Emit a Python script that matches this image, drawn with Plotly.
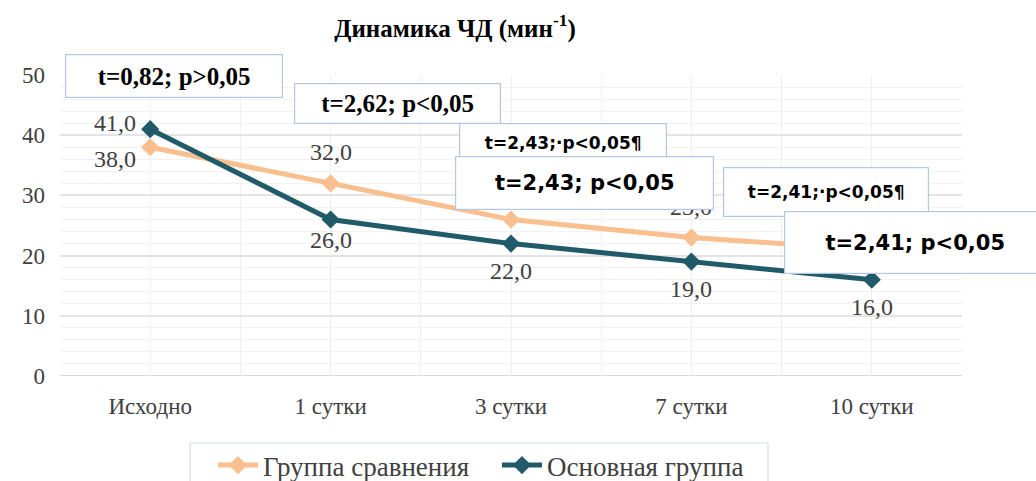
import plotly.graph_objects as go

categories = ["Исходно", "1 сутки", "3 сутки", "7 сутки", "10 сутки"]
comparison_group = [38.0, 32.0, 26.0, 23.0, 21.0]
main_group = [41.0, 26.0, 22.0, 19.0, 16.0]
series_names = ["Группа сравнения", "Основная группа"]
y_ticks = [0, 10, 20, 30, 40, 50]
stat_boxes_big = ["t=0,82; p>0,05", "t=2,62; p<0,05", "t=2,43; p<0,05", "t=2,41; p<0,05"]
stat_boxes_small = ["t=2,43;·p<0,05¶", "t=2,41;·p<0,05¶"]

ORANGE = "#F9BF8F"
TEAL = "#215A69"
SERIF = "Liberation Serif, Times New Roman, serif"
SANS = "DejaVu Sans, Verdana, sans-serif"
BORDER = "#B4C7E7"
TXT = "#404040"

W, H = 1036, 481
L, R, T, B = 60, 74, 75, 105
PW, PH = W - L - R, H - T - B

def px(x):
    return (x - L) / PW

def py(y):
    return (H - B - y) / PH

xs = list(range(len(categories)))

fig = go.Figure()
fig.add_trace(go.Scatter(
    x=xs, y=comparison_group, name=series_names[0], mode="lines+markers",
    line=dict(color=ORANGE, width=5), marker=dict(symbol="diamond", size=14, color=ORANGE)))
fig.add_trace(go.Scatter(
    x=xs, y=main_group, name=series_names[1], mode="lines+markers",
    line=dict(color=TEAL, width=5), marker=dict(symbol="diamond", size=14, color=TEAL)))

label_font = dict(family=SERIF, size=24, color=TXT)
annotations = []
for i, v in enumerate(comparison_group):
    xs_, ys_ = (-35, -12) if i == 0 else (0, 31)
    annotations.append(dict(x=xs[i], y=v, xref="x", yref="y", text=f"{v:.1f}".replace(".", ","),
                            showarrow=False, xshift=xs_, yshift=ys_, font=label_font))
for i, v in enumerate(main_group):
    if i == 0:
        xs_, ys_ = -35, 6
    elif i == 1:
        xs_, ys_ = 0, -21
    else:
        xs_, ys_ = 0, -27
    annotations.append(dict(x=xs[i], y=v, xref="x", yref="y", text=f"{v:.1f}".replace(".", ","),
                            showarrow=False, xshift=xs_, yshift=ys_, font=label_font))

def box(text, x0, y0, x1, y1, font):
    annotations.append(dict(
        x=px(x0), y=py(y0), xref="paper", yref="paper", xanchor="left", yanchor="top",
        text=text, showarrow=False, align="center", valign="middle",
        width=x1 - x0 - 4, height=y1 - y0 - 4, borderpad=1,
        bgcolor="white", bordercolor=BORDER, borderwidth=1.2, font=font))

big_serif = dict(family=SERIF, size=25, color="black", weight="bold")
small_sans = dict(family=SANS, size=17, color="black", weight="bold")
big_sans = dict(family=SANS, size=21, color="black", weight="bold")

box(stat_boxes_big[0], 65, 54, 283, 98, big_serif)
box(stat_boxes_big[1], 294, 83, 501, 124, big_serif)
box(stat_boxes_small[0], 459, 123, 667, 163, small_sans)
box(stat_boxes_big[2], 455, 156, 714, 210, big_sans)
box(stat_boxes_small[1], 723, 167, 929, 217, small_sans)
box(stat_boxes_big[3], 784, 211, 1046, 274, big_sans)

fig.update_layout(
    width=W, height=H, margin=dict(l=L, r=R, t=T, b=B, autoexpand=False),
    paper_bgcolor="white", plot_bgcolor="white",
    title=dict(text="Динамика ЧД (мин<sup>-1</sup>)", x=455 / W, xanchor="center", y=1 - 28 / H,
               yanchor="middle", font=dict(family=SERIF, size=25, color="black", weight="bold")),
    showlegend=True,
    legend=dict(orientation="h", x=px(213), y=py(441), xanchor="left", yanchor="top",
                borderwidth=0, bgcolor="rgba(0,0,0,0)",
                font=dict(family=SERIF, size=27, color=TXT),
                itemwidth=40, entrywidthmode="pixels", entrywidth=229),
    annotations=annotations,
    xaxis=dict(range=[-0.5, 4.5], tickmode="array", tickvals=xs, ticktext=categories,
               automargin=False,
               showgrid=True, gridcolor="#F0F0F0", gridwidth=1, zeroline=False,
               showline=False, ticks="", ticklabelstandoff=14,
               tickfont=dict(family=SERIF, size=23, color=TXT),
               minor=dict(tickmode="array", tickvals=[x - 0.5 for x in xs] + [4.5],
                          showgrid=True, gridcolor="#F0F0F0", gridwidth=1)),
    yaxis=dict(range=[0, 50], tickmode="array", tickvals=y_ticks, automargin=False,
               showgrid=True, gridcolor="#E4E4E4", gridwidth=2, zeroline=False,
               showline=False, ticks="", ticklabelstandoff=14,
               tickfont=dict(family=SERIF, size=23, color=TXT),
               minor=dict(dtick=2, tick0=0, showgrid=True, gridcolor="#F2F2F2", gridwidth=1)),
)
fig.add_shape(type="line", xref="paper", yref="y", x0=0, x1=1, y0=0, y1=0,
              line=dict(color="#D9D9D9", width=2), layer="below")
# legend frame
fig.add_shape(type="rect", xref="paper", yref="paper", x0=px(190), x1=px(768), y0=py(490), y1=py(443),
              line=dict(color="#D6DCE5", width=1.2), fillcolor="rgba(0,0,0,0)", layer="below")

fig.write_html("out.html", config={"displayModeBar": False},
               post_script="document.body.style.margin='0';document.body.style.overflow='hidden';")
